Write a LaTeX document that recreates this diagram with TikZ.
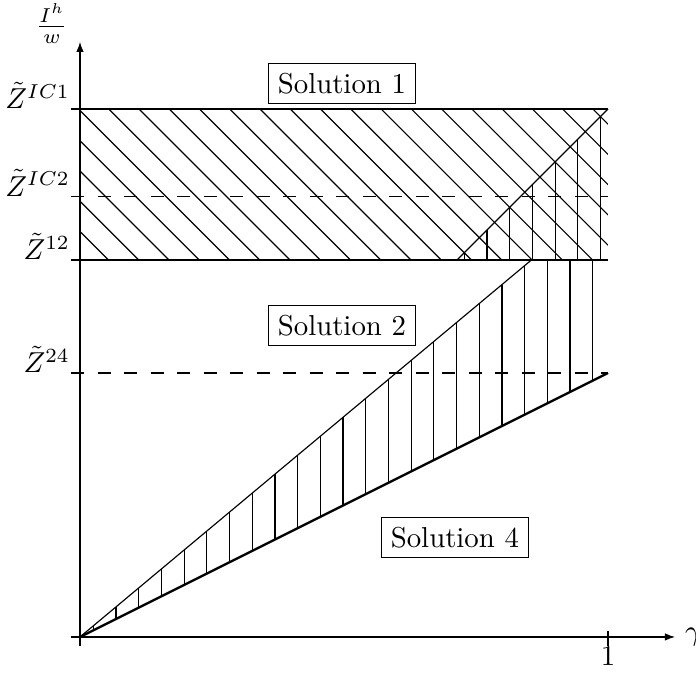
\documentclass[tikz,border=0pt]{standalone}
\usepackage{amsmath, amssymb}
\usetikzlibrary{arrows.meta, positioning}
\tikzset{
  solbox/.style={draw, inner sep=3.33pt},
  hatchline/.style={thin},
  boundline/.style={thick},
  levelline/.style={dash pattern=on 4.6pt off 4.6pt},
  axisline/.style={-{Latex[length=3.5pt, width=2.6pt]}},
}

\begin{document}
\begin{tikzpicture}[x=6.44cm, y=6.44cm]
    \useasboundingbox (-0.1515,-0.0682) rectangle (1.1667,1.2064);
    % axes
    \coordinate (O) at (0,0);
    \coordinate (xstart) at (-0.017,0);
    \coordinate (xend) at (1.127,0);
    \coordinate (ystart) at (0,-0.017);
    \coordinate (yend) at (0,1.127);
    \draw[axisline] (xstart) -- (xend);
    \draw[axisline] (ystart) -- (yend);
    \node[right] (gamma) at (xend) {$\gamma$};
    \node[anchor=south east, inner sep=0pt, xshift=-4pt, yshift=-0.7pt] (ilab) at (yend) {$\frac{I^h}{w}$};
    \coordinate (t1) at (1,0.012);
    \coordinate (t1b) at (1,-0.017);
    \draw (t1) -- (t1b);
    \node[below] (one) at (1,0) {$1$};
    % hatching: solution 1
    \begin{scope}
      \clip (0,0.714) rectangle (1,1);
      \foreach \m in {0,...,21} {
        \pgfmathsetmacro\cc{0.768+0.0573*\m}
        \draw[hatchline] (\cc-0.714,0.714) -- (\cc-1,1);
      }
    \end{scope}
    % hatching: vertical
    \foreach \k in {0,...,6} {
      \pgfmathsetmacro\xx{0.728+0.043*\k}
      \draw[hatchline] (\xx,0.714) -- (\xx,\xx);
    }
    \foreach \k in {0,...,22} {
      \pgfmathsetmacro\xx{0.0252+0.043*\k}
      \pgfmathsetmacro\yy{min(0.835*\xx,0.714)}
      \draw[hatchline] (\xx,0.5*\xx) -- (\xx,\yy);
    }
    % levels
    \coordinate (ic1a) at (-0.017,1);     \coordinate (ic1b) at (1,1);
    \coordinate (ic2a) at (-0.017,0.835); \coordinate (ic2b) at (1,0.835);
    \coordinate (z12a) at (-0.017,0.714); \coordinate (z12b) at (1,0.714);
    \coordinate (z24a) at (-0.017,0.5);   \coordinate (z24b) at (1,0.5);
    \draw (ic1a) -- (ic1b);
    \draw[levelline] (ic2a) -- (ic2b);
    \draw[boundline] (z12a) -- (z12b);
    \draw[levelline] (z24a) -- (z24b);
    \node[anchor=base east] (zic1) at (0,1) {$\tilde{Z}^{IC1}$};
    \node[anchor=base east] (zic2) at (0,0.835) {$\tilde{Z}^{IC2}$};
    \node[anchor=base east] (z12) at (0,0.714) {$\tilde{Z}^{12}$};
    \node[anchor=base east] (z24) at (0,0.5) {$\tilde{Z}^{24}$};
    % boundaries
    \coordinate (k1) at (0.855,0.714);
    \coordinate (d0) at (0.714,0.714);
    \draw[boundline] (O) -- (z24b);
    \draw (O) -- (k1);
    \draw (d0) -- (ic1b);
    % regions
    \node[solbox] (s1) at (0.496,1.048) {Solution 1};
    \node[solbox] (s2) at (0.496,0.590) {Solution 2};
    \node[solbox] (s4) at (0.710,0.188) {Solution 4};
  \end{tikzpicture}
\end{document}
